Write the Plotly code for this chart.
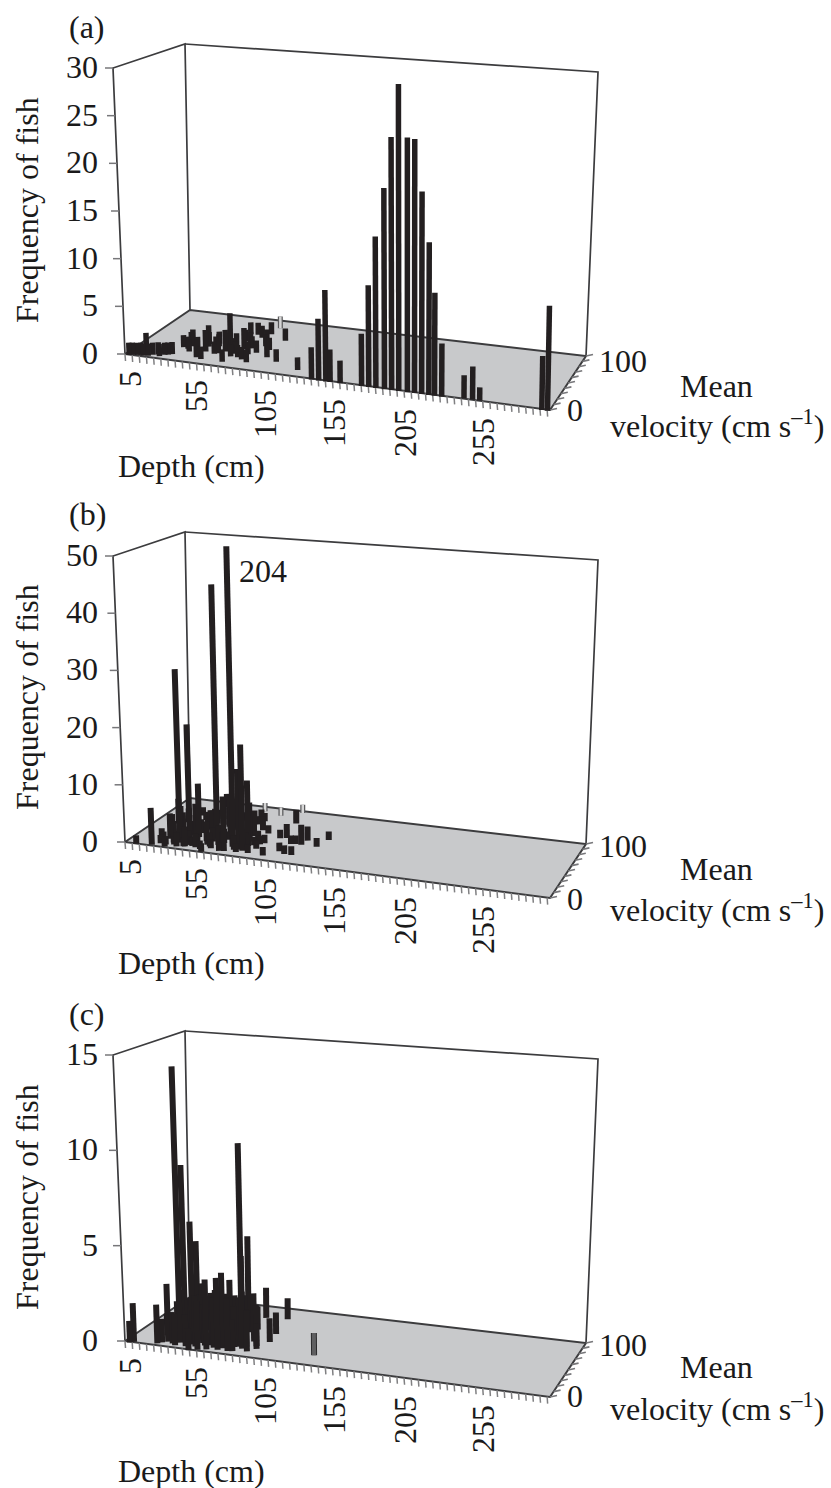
import plotly.graph_objects as go

# ---------- data ----------
a_depth = [7,12,14,17,21,26,28,30,32,33, 37,40,49,53,50,48,54,54,59,68, 62,69,63,64,78,83,72,78,72,82,
           64,69,74,83,92,77,101,91,120,135, 140,145,148,155,170,175,180,186,191,196,
           202,207,212,217,221,226,241,247,252,296, 300,
           9,16,19,24,38,35,43,46,52,57, 60,66,70,74,67,76,80,88]
a_velocity = [2,4,5,7,8,7,11,12,14,30, 28,23,14,12,27,37,35,40,27,12, 32,24,38,46,21,17,40,32,51,37,
              70,71,66,51,31,75,25,66,15,1, 1,1,1,1,1,1,1,1,1,1,
              1,1,1,1,1,1,3,3,3,1, 1,
              3,4,5,10,34,38,30,42,45,25, 40,36,30,24,55,44,60,45]
a_frequency = [1,1,1,2,1,1,1,1,1,1, 1,1,1,1,2,2,1,1,1,1, 2,1,3.5,1,1,1,2,1,1,1,
               1,1,1,1,1,1,1,1,1,3, 6,9,3,2,5,10,15,20,25.2,30.6,
               25.3,25.2,20,15,10,5,2,3,1,5, 10,
               1,1,1,1,1.5,1,1,1,1,1, 1,1,1,1,1,1,1,1]
a_light_depth, a_light_velocity, a_light_frequency = [78], [88], [1]

b_depth = [37,44,44,56,71.5,81,75,81,70,12, 22,26,31,28,57,67,78,79,86,97,
           88,87,89,84,78,72,95,104,109,114, 99,106,109,113,114,124,127,94,35,36,
           42,44,46,48,55,56,56,64,64,70, 73,79,78,77,25,21,27,30,37,42,
           39,45,44,49,54,62,65,68,71,67, 34,37,25,20,46,53,58,28,36,
           30,33,38,41,43,47,50,52,54,58, 60,62,66,68,72,75,80,84,70,60,
           50,40,33,25,35,47,58,66,74,82, 52,60,44]
b_velocity = [15,15,30,32,22,15,23,25,10,2, 4,9,4,20,3,9,11,17,12,11,
              22,31,34,53,58,75,47,23,19,19, 49,39,40,40,49,40,55,78,10,16,
              9,13,13,18,18,25,32,25,32,27, 33,24,35,45,16,22,28,36,32,38,
              55,47,60,59,57,53,62,67,68,81, 64,72,56,51,76,75,81,72,93,
              8,14,7,20,9,12,10,24,8,15, 12,20,17,13,20,15,24,28,40,45,
              38,34,26,30,45,50,55,50,45,40, 65,72,70]
b_frequency = [30,20.5,9,44.5,52,18,13,11,9,1, 6,1,1,4,1,1,1,1,1,1,
               1,1,1,1,2,1,1,1,1,1, 2,1,1,3,2,1,1,2,1,1,
               1,2,1,1,1,2,1,2,1,1, 2,1,1,2,1,1,2,3,2,2,
               1,3,2,4,3,3,2,2,1,1, 1,1,2,4,3,2,2,1,2,
               1,1,2,1,3,1,2,3,1,2, 1,3,2,1,1,2,2,1,4,4,
               3,5,5,3,2,3,3,2,3,1, 2,1,2]
b_light_depth, b_light_velocity, b_light_frequency = [78,91,90,64], [89,85,99,94], [1,1,1,1]

c_depth = [38,41,47,45,80,71.5,77,8,10,25, 30,27,34,37,49,54,59,59,66,68,
           59,73,69,69,77,81,82,83,71,92, 90,86,33,40,39,51,60,64,69,64,
           56,46,40,24,32,42,53,61,75,
           36,44,50,52,47,55,62,63,70,74, 76,85,87,80,72,50,43,35,28,30,
           55,65,58,48,75,89]
c_velocity = [13,15,13,26,17,49,25,1,3,6, 12,9,10,7,1,4,7,16,9,13,
              23,9,24,32,20,22,33,34,80,36, 52,82,27,24,15,21,31,33,35,51,
              48,44,38,24,41,67,69,61,56,
              14,8,10,18,26,14,12,22,15,18, 10,13,25,40,42,40,30,33,20,30,
              30,42,55,55,30,20]
c_frequency = [14.4,9.2,6.3,5,10.6,5,4.5,1,1.9,1.9, 2.9,1.1,1.5,1.5,1,2.4,3.5,2.6,3.6,3.8,
               2.6,2.6,3.2,2.2,2.4,1.8,2.4,1.4,1.5,1.1, 1,1,1.5,2,2.6,1.4,1.8,1.8,1,1.6,
               1.8,1.5,1.4,1,1,1.2,1,1.1,1.1,
               2,1.5,2.5,3,2.2,2,2.5,2.8,2.5,2, 1.5,2,2,1.6,2,1.5,2.5,1.5,1.2,1,
               2.2,1.8,1,1.2,2.5,1.2]
c_gray_depth, c_gray_velocity, c_gray_frequency = [129], [22], [1]

depth_labels = [5, 55, 105, 155, 205, 255]
a_freq_ticks = [0, 5, 10, 15, 20, 25, 30]
b_freq_ticks = [0, 10, 20, 30, 40, 50]
c_freq_ticks = [0, 5, 10, 15]
panel_letters = ["(a)", "(b)", "(c)"]

# ---------- projection of the oblique 3-D box ----------
DEPTH_MIN, DEPTH_MAX = 5, 302
FLOOR = dict(fl=(125, 354), fr=(550, 410), bl=(190, 310), br=(586, 356))
ROOF = dict(fl=(113, 68), fr=(556, 104), bl=(185, 44), br=(598, 72))
LABEL_DX = [5, 0, -3, -5, -6, 0]
BAR_HALF_DEPTH = 3


def bilerp(c, u, w):
    return tuple((1-u)*(1-w)*c["fl"][i] + u*(1-w)*c["fr"][i] + (1-u)*w*c["bl"][i] + u*w*c["br"][i]
                 for i in (0, 1))


def project(depth, velocity, freq, zmax, dy):
    u = (depth-DEPTH_MIN)/(DEPTH_MAX-DEPTH_MIN)
    w = velocity/100
    b = bilerp(FLOOR, u, w)
    t = bilerp(ROOF, u, w)
    f = freq/zmax
    return b[0]+(t[0]-b[0])*f, b[1]+(t[1]-b[1])*f+dy


fig = go.Figure()
annotations = []
DARK = "#231f20"
EDGE = "#3c3c3e"
SERIF = "Liberation Serif"


def line(xs, ys, color, width):
    fig.add_trace(go.Scatter(x=xs, y=ys, mode="lines", line=dict(color=color, width=width),
                             hoverinfo="skip", showlegend=False))


def bars(dep, vel, frq, zmax, dy, color, width):
    # the box has a footprint along the velocity axis: its height on the page
    # grows by that footprint, while it stays upright
    order = sorted(range(len(dep)), key=lambda i: -vel[i])
    xs, ys = [], []
    for i in order:
        x0 = project(dep[i], vel[i], 0, zmax, dy)[0]
        x1 = project(dep[i], vel[i], frq[i], zmax, dy)[0]
        y0 = project(dep[i], vel[i]-BAR_HALF_DEPTH, 0, zmax, dy)[1]
        y1 = project(dep[i], vel[i]+BAR_HALF_DEPTH, frq[i], zmax, dy)[1]
        xs += [x0, x1, None]
        ys += [y0, y1, None]
    line(xs, ys, color, width)


def text(x, y, s, size=32, angle=0, xanchor="center", yanchor="middle"):
    annotations.append(dict(x=x, y=y, xref="x", yref="y", text=s, showarrow=False, textangle=angle,
                            xanchor=xanchor, yanchor=yanchor, borderpad=0, borderwidth=0,
                            font=dict(family=SERIF, size=size, color="#1a1a1a")))


def panel(idx, dy, zmax, zticks, dep, vel, frq, extra, txt, bar_w):
    p = lambda d, v, z=0: project(d, v, z, zmax, dy)
    corners = [p(DEPTH_MIN, 0), p(DEPTH_MAX, 0), p(DEPTH_MAX, 100), p(DEPTH_MIN, 100), p(DEPTH_MIN, 0)]
    fig.add_trace(go.Scatter(x=[c[0] for c in corners], y=[c[1] for c in corners], mode="lines",
                             fill="toself", fillcolor="#c8c9cb", line=dict(color=EDGE, width=2),
                             hoverinfo="skip", showlegend=False))
    frame = [p(DEPTH_MIN, 0, 0), p(DEPTH_MIN, 0, zmax), p(DEPTH_MIN, 100, zmax), p(DEPTH_MIN, 100, 0)]
    line([c[0] for c in frame], [c[1] for c in frame], EDGE, 1.7)
    frame = [p(DEPTH_MIN, 100, zmax), p(DEPTH_MAX, 100, zmax), p(DEPTH_MAX, 100, 0)]
    line([c[0] for c in frame], [c[1] for c in frame], EDGE, 1.7)
    xs, ys = [], []
    for d in range(5, DEPTH_MAX+1, 5):
        x, y = p(d, 0)
        xs += [x, x+0.5, None]
        ys += [y, y+7, None]
    line(xs, ys, "#808082", 1.5)
    xs, ys = [], []
    for v in range(0, 101, 10):
        x, y = p(DEPTH_MAX, v)
        xs += [x, x+7, None]
        ys += [y, y-1.5, None]
    line(xs, ys, "#77777a", 1.6)
    xs, ys = [], []
    for z in zticks:
        x, y = p(DEPTH_MIN, 0, z)
        xs += [x, x-8, None]
        ys += [y, y, None]
        text(98, y-1, str(z), xanchor="right")
    line(xs, ys, "#77777a", 1.5)
    for (ed, ev, ef, kind) in extra:
        if kind == "light":
            bars(ed, ev, ef, zmax, dy, "#5a5a5c", 5)
            bars(ed, ev, ef, zmax, dy, "#d6d6d6", 2.5)
        else:
            bars(ed, ev, ef, zmax, dy, "#2a2a2c", 6)
            bars(ed, ev, ef, zmax, dy, "#5f5f61", 4)
    bars(dep, vel, frq, zmax, dy, DARK, bar_w)
    for lab, dx in zip(depth_labels, LABEL_DX):
        x, y = p(lab, 0)
        text(x+dx, y+17, str(lab), angle=-90, yanchor="top")
    text(87, txt["letter"], panel_letters[idx])
    text(27, txt["freq"], "Frequency of fish", angle=-90)
    text(191, txt["depth"], "Depth (cm)")
    text(623, txt["v100"], "100")
    text(575, txt["v0"], "0")
    text(716, txt["mean"], "Mean")
    text(717, txt["veloc"], "velocity (cm s<sup>–1</sup>)")


panel(0, 0, 30, a_freq_ticks, a_depth, a_velocity, a_frequency,
      [(a_light_depth, a_light_velocity, a_light_frequency, "light")],
      dict(letter=27, freq=210, depth=466, v100=361, v0=410, mean=386, veloc=424), 5.5)
panel(1, 488, 50, b_freq_ticks, b_depth, b_velocity, b_frequency,
      [(b_light_depth, b_light_velocity, b_light_frequency, "light")],
      dict(letter=514, freq=697, depth=963, v100=846, v0=899, mean=869, veloc=908), 6)
panel(2, 987, 15, c_freq_ticks, c_depth, c_velocity, c_frequency,
      [(c_gray_depth, c_gray_velocity, c_gray_frequency, "gray")],
      dict(letter=1014, freq=1197, depth=1471, v100=1345, v0=1396, mean=1367, veloc=1407), 6)

text(263, 571, "204")

fig.update_layout(
    width=831, height=1488, margin=dict(l=0, r=0, t=0, b=0),
    paper_bgcolor="white", plot_bgcolor="white", showlegend=False, annotations=annotations,
    xaxis=dict(range=[0, 831], visible=False, fixedrange=True),
    yaxis=dict(range=[1488, 0], visible=False, fixedrange=True),
)
fig.write_html("out.html", post_script="document.body.style.margin='0';",
               config=dict(displayModeBar=False))
